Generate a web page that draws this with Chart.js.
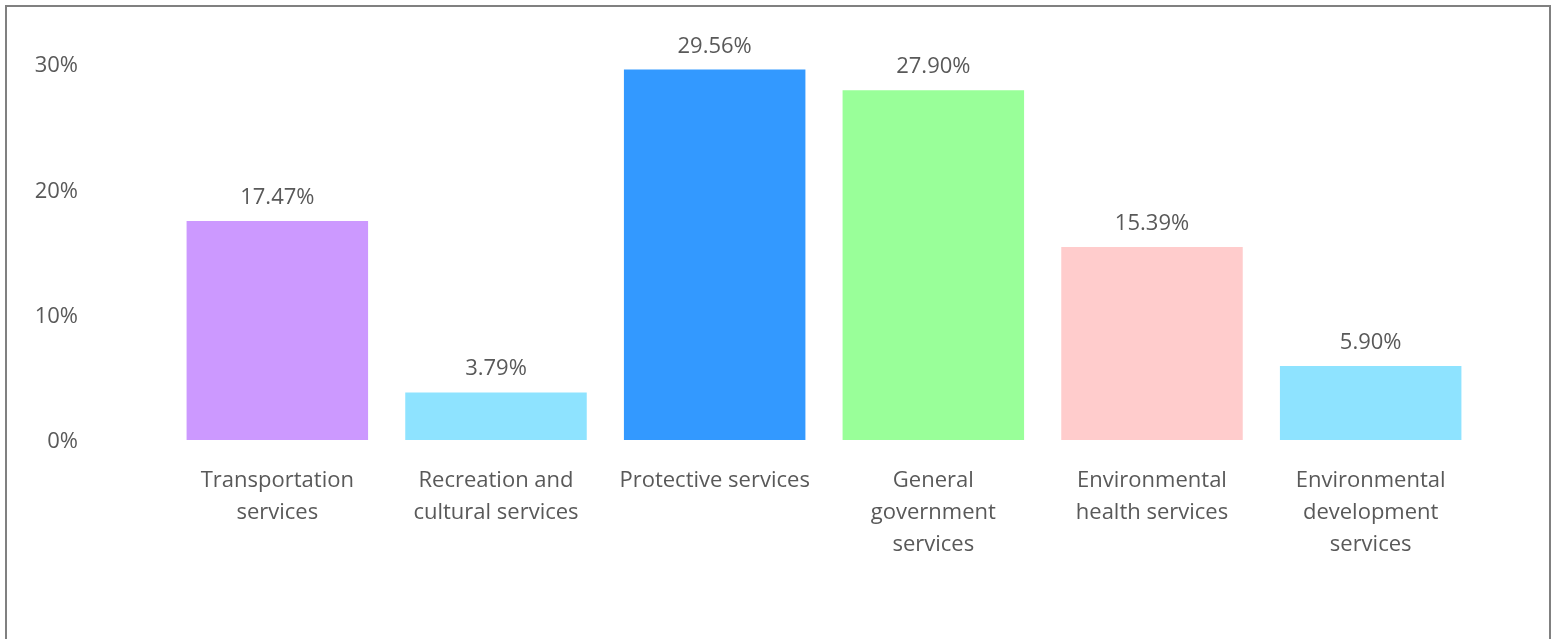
<!DOCTYPE html>
<html>
<head>
<meta charset="utf-8">
<script src="https://cdn.jsdelivr.net/npm/chart.js@4/dist/chart.umd.min.js"></script>
<style>
  html, body { margin: 0; padding: 0; background: #fff; overflow: hidden; }
  #box {
    position: absolute; left: 5px; top: 5px;
    width: 1542px; height: 660px;
    border: 2px solid #808080;
  }
  #box canvas { display: block; }
</style>
</head>
<body>
<div id="box"><canvas id="chart" width="1542" height="640"></canvas></div>
<script>
// Chart data
const categories = [
  ["Transportation", "services"],
  ["Recreation and", "cultural services"],
  "Protective services",
  ["General", "government", "services"],
  ["Environmental", "health services"],
  ["Environmental", "development", "services"],
]
const shares = [17.47, 3.79, 29.56, 27.90, 15.39, 5.90]
const yTicks = [0, 10, 20, 30]

const barColors = ["#cc99ff", "#8ee3ff", "#3399ff", "#99ff99", "#ffcccc", "#8ee3ff"]
const textColor = "#595959"
const fontFamily = "'Open Sans', sans-serif"

// draws the value above each bar
const barValues = {
  id: "barValues",
  afterDatasetsDraw(chart) {
    const ctx = chart.ctx
    const meta = chart.getDatasetMeta(0)
    ctx.save()
    ctx.font = "22px " + fontFamily
    ctx.fillStyle = textColor
    ctx.textAlign = "center"
    ctx.textBaseline = "alphabetic"
    meta.data.forEach((bar, i) => {
      ctx.fillText(shares[i].toFixed(2) + "%", bar.x, bar.y - 17)
    })
    ctx.restore()
  },
}

new Chart(document.getElementById("chart"), {
  type: "bar",
  data: {
    labels: categories,
    datasets: [
      {
        data: shares,
        backgroundColor: barColors,
        borderWidth: 0,
        barPercentage: 0.83,
        categoryPercentage: 1,
      },
    ],
  },
  options: {
    responsive: false,
    animation: false,
    layout: {
      padding: { left: 27, right: 69, top: 57, bottom: 61 },
    },
    plugins: {
      legend: { display: false },
      tooltip: { enabled: false },
    },
    scales: {
      x: {
        grid: { display: false, drawTicks: false },
        border: { display: false },
        ticks: {
          color: textColor,
          font: { family: fontFamily, size: 22, lineHeight: 32 / 22 },
          padding: 25,
          maxRotation: 0,
          autoSkip: false,
        },
      },
      y: {
        min: 0,
        max: 30,
        grid: { display: false, drawTicks: false },
        border: { display: false },
        afterBuildTicks: (scale) => {
          scale.ticks = yTicks.map((v) => ({ value: v }))
        },
        afterFit: (scale) => {
          // fixed axis width; the big label gap should not pad the top
          scale.width = 134
          scale.paddingTop = 0
          scale.paddingBottom = 0
        },
        ticks: {
          color: textColor,
          font: { family: fontFamily, size: 22 },
          padding: 90,
          labelOffset: 2,
          callback: (value) => value + "%",
        },
      },
    },
  },
  plugins: [barValues],
})
</script>
</body>
</html>
